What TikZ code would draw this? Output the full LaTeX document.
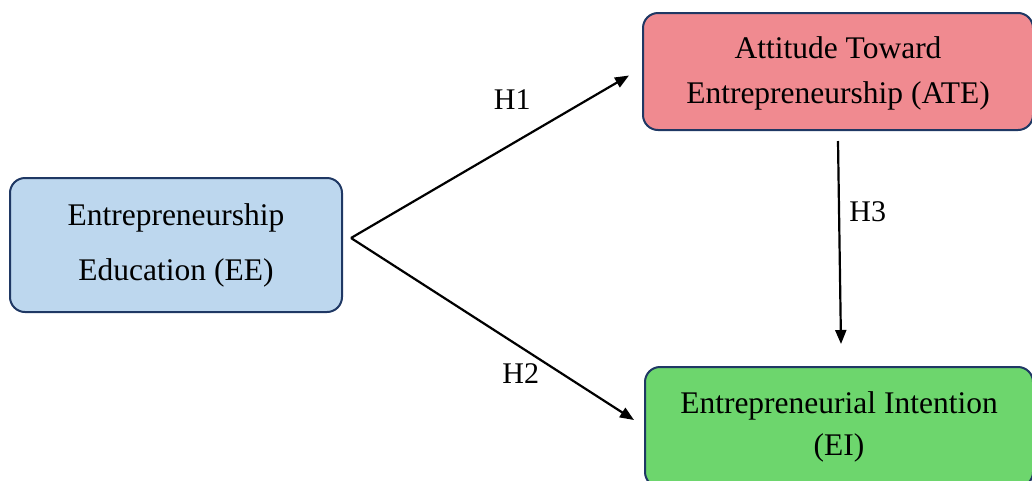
\documentclass[tikz,border=0pt]{standalone}
\usepackage{fontspec}
\setmainfont{Liberation Serif}
\usepackage{tikz}
\usetikzlibrary{arrows.meta,positioning}
\definecolor{modelnavy}{HTML}{1F3864}
\definecolor{modelblue}{HTML}{BDD7EE}
\definecolor{modelpink}{HTML}{F08A90}
\definecolor{modelgreen}{HTML}{6DD66D}

\begin{document}
\begin{tikzpicture}[
  x=1pt,y=-1pt,
  box/.style={draw=modelnavy,line width=2pt,rounded corners=15pt,align=center,
              inner sep=0pt,font=\fontsize{31.5}{45}\selectfont},
  arrow/.style={-{Triangle[length=14pt,width=11pt]},line width=2.2pt},
  hyp/.style={font=\fontsize{30}{36}\selectfont}
]
  \useasboundingbox (0,0) rectangle (1032,480);
  \clip (0,0) rectangle (1032,480);
  \node[box,fill=modelblue,minimum width=332pt,minimum height=134pt,
        font=\fontsize{31.5}{55}\selectfont] (ee) at (176,245)
        {Entrepreneurship\\Education (EE)};
  \node[box,fill=modelpink,minimum width=390pt,minimum height=117pt] (ate) at (838,71.5)
        {\rule{0pt}{26pt}Attitude Toward\\Entrepreneurship (ATE)};
  \node[box,fill=modelgreen,minimum width=388pt,minimum height=120pt,
        font=\fontsize{31.5}{42}\selectfont] (ei) at (839,427)
        {Entrepreneurial Intention\\(EI)};
  \coordinate (fork) at ([xshift=8pt,yshift=7pt]ee.east);

  \draw[arrow] (fork) -- ([xshift=-13pt,yshift=-4pt]ate.west) node[hyp,pos=0.58,above=30pt] {H1};
  \draw[arrow] (fork) -- ([xshift=-10pt,yshift=7pt]ei.west) node[hyp,pos=0.6,below=12pt] {H2};
  \draw[arrow] ([yshift=-10pt]ate.south) -- ([xshift=2pt,yshift=22pt]ei.north)
        node[hyp,pos=0.35,right=6pt] {H3};
\end{tikzpicture}
\end{document}
